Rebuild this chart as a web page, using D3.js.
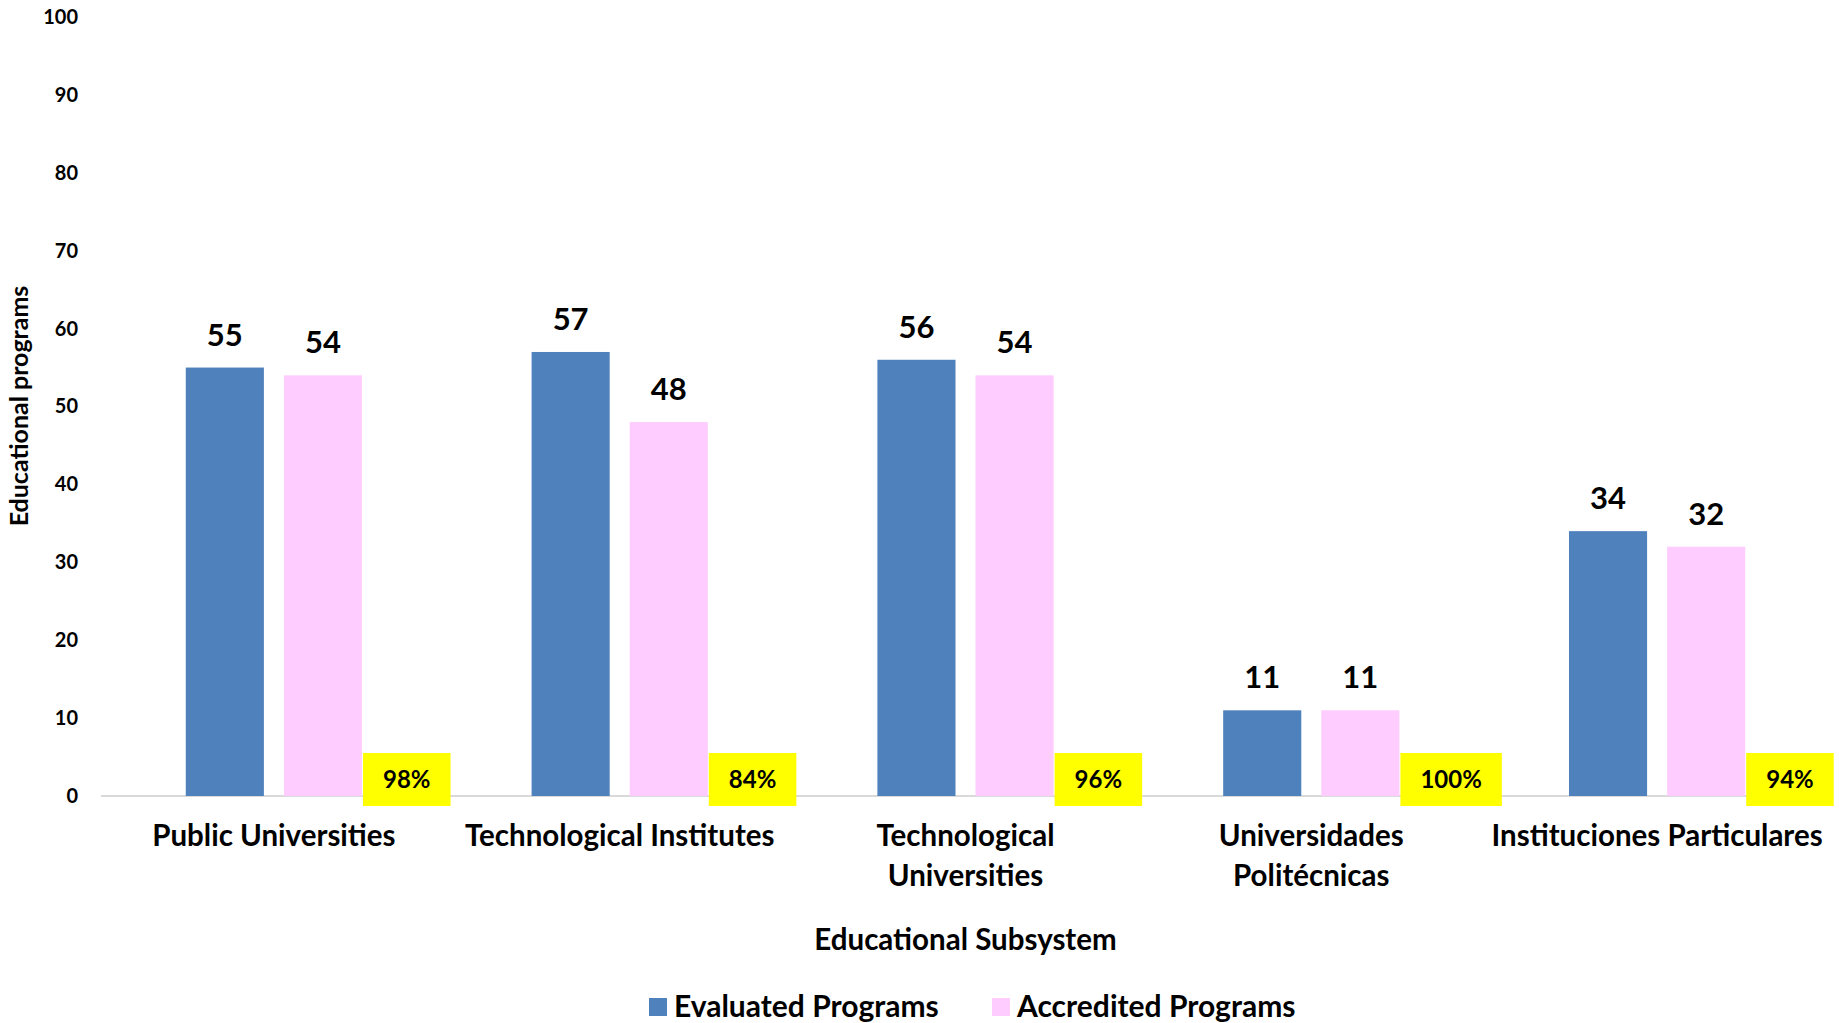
<!DOCTYPE html>
<html>
<head>
<meta charset="utf-8">
<script src="https://cdn.jsdelivr.net/npm/d3@7"></script>
<style>
  body { margin: 0; background: #fff; }
  text { font-family: Lato, "Open Sans", sans-serif; font-weight: bold; fill: #000; }
</style>
</head>
<body>
<div id="chart"></div>
<script>
// chart data
var categories = [["Public Universities"], ["Technological Institutes"], ["Technological", "Universities"], ["Universidades", "Politécnicas"], ["Instituciones Particulares"]];
var evaluated = [55, 57, 56, 11, 34];
var accredited = [54, 48, 54, 11, 32];
var percents = ["98%", "84%", "96%", "100%", "94%"];
var yTicks = [0, 10, 20, 30, 40, 50, 60, 70, 80, 90, 100];
var seriesNames = ["Evaluated Programs", "Accredited Programs"];
var seriesColors = ["#4f81bd", "#ffccff"];

const W = 1839, H = 1023;
const margin = {top: 17, right: 9, bottom: 227, left: 101};
var width = W - margin.left - margin.right;
var height = H - margin.top - margin.bottom;

var svg = d3.select("#chart").append("svg")
    .attr("width", W)
    .attr("height", H);

var g = svg.append("g")
    .attr("transform", "translate(" + margin.left + "," + margin.top + ")");

var rows = categories.map(function(c, i) {
    return {key: i, label: c, values: [evaluated[i], accredited[i]], pct: percents[i]};
});

var x0 = d3.scaleBand().domain(rows.map(d => d.key)).range([0, width]);
var x1 = d3.scaleBand().domain([0, 1]).range([0, x0.bandwidth()])
    .paddingInner(0.204).paddingOuter(0.864);
var y = d3.scaleLinear().domain([0, 100]).range([height, 0]);

// y tick labels
var yAxis = d3.axisLeft(y).tickValues(yTicks).tickSize(0).tickPadding(23);
g.append("g").call(yAxis)
    .call(s => s.select(".domain").remove())
    .selectAll("text")
    .style("font-size", "20px")
    .style("font-family", "Lato, sans-serif")
    .style("font-weight", "bold")
    .attr("fill", "#000");

// baseline
g.append("line")
    .attr("x1", 0).attr("x2", width)
    .attr("y1", y(0)).attr("y2", y(0))
    .attr("stroke", "#d9d9d9").attr("stroke-width", 2);

var groups = g.selectAll(".grp").data(rows).enter().append("g")
    .attr("class", "grp")
    .attr("transform", d => "translate(" + x0(d.key) + ",0)");

groups.selectAll("rect.bar")
    .data(d => d.values.map((v, j) => ({j: j, v: v})))
    .enter().append("rect")
    .attr("class", "bar")
    .attr("x", d => x1(d.j))
    .attr("width", x1.bandwidth())
    .attr("y", d => y(d.v))
    .attr("height", d => y(0) - y(d.v))
    .attr("fill", d => seriesColors[d.j]);

groups.selectAll("text.val")
    .data(d => d.values.map((v, j) => ({j: j, v: v})))
    .enter().append("text")
    .attr("class", "val")
    .attr("x", d => x1(d.j) + x1.bandwidth() / 2)
    .attr("y", d => y(d.v) - 22)
    .attr("text-anchor", "middle")
    .style("font-size", "31px")
    .text(d => d.v);

// percentage boxes
groups.each(function(d) {
    var grp = d3.select(this);
    var bx = x1(1) + x1.bandwidth() + 1;
    var t = grp.append("text")
        .style("font-size", "24px")
        .attr("text-anchor", "middle")
        .text(d.pct);
    var tw = t.node().getComputedTextLength();
    var bw = tw + 40;
    grp.insert("rect", "text")
        .attr("x", bx)
        .attr("y", y(0) - 43)
        .attr("width", bw)
        .attr("height", 53)
        .attr("fill", "#ffff00");
    t.attr("x", bx + bw / 2).attr("y", y(0) - 8);
});

// category labels
groups.append("text")
    .attr("text-anchor", "middle")
    .attr("y", height + 50)
    .style("font-size", "29.5px")
    .each(function(d) {
        var t = d3.select(this);
        d.label.forEach(function(line, k) {
            t.append("tspan")
                .attr("x", x0.bandwidth() / 2)
                .attr("dy", k === 0 ? 0 : 40)
                .text(line);
        });
    });

// axis titles
svg.append("text")
    .attr("x", margin.left + width / 2)
    .attr("y", 950)
    .attr("text-anchor", "middle")
    .style("font-size", "29.5px")
    .text("Educational Subsystem");

svg.append("text")
    .attr("transform", "translate(28,406) rotate(-90)")
    .attr("text-anchor", "middle")
    .style("font-size", "25px")
    .text("Educational programs");

// legend
var legendX = [649, 992];
var legend = svg.selectAll(".leg").data(seriesNames).enter().append("g")
    .attr("class", "leg")
    .attr("transform", (d, i) => "translate(" + legendX[i] + ",998)");
legend.append("rect")
    .attr("width", 18).attr("height", 18)
    .attr("fill", (d, i) => seriesColors[i]);
legend.append("text")
    .attr("x", 25).attr("y", 19)
    .style("font-size", "30px")
    .text(d => d);
</script>
</body>
</html>
